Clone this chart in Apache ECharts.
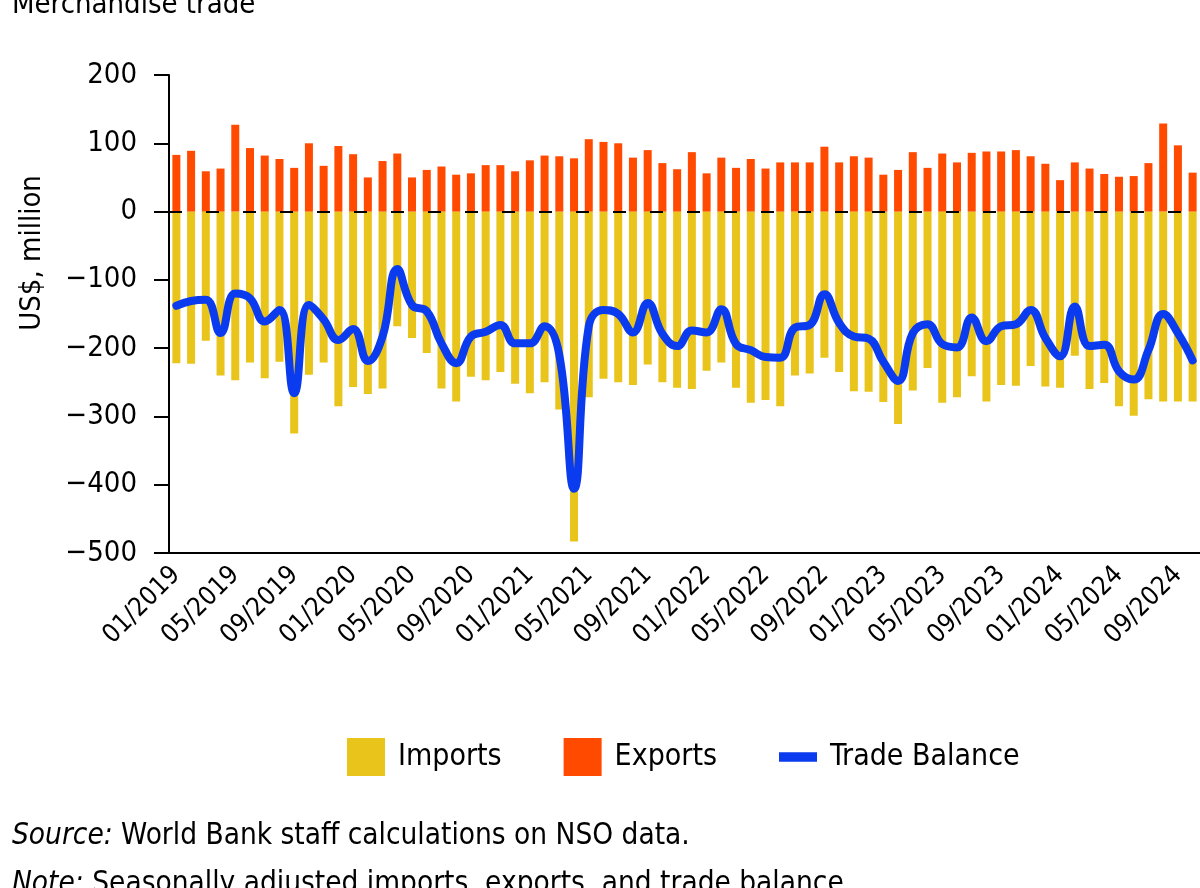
<!DOCTYPE html>
<html>
<head>
<meta charset="utf-8">
<script src="https://cdn.jsdelivr.net/npm/echarts@6.0.0/dist/echarts.min.js"></script>
<style>
html,body{margin:0;padding:0;background:#fff;}
#chart{width:1200px;height:888px;}
</style>
</head>
<body>
<div id="chart"></div>
<script>
var categories = [
 '01/2019','02/2019','03/2019','04/2019','05/2019','06/2019','07/2019','08/2019','09/2019','10/2019','11/2019','12/2019',
 '01/2020','02/2020','03/2020','04/2020','05/2020','06/2020','07/2020','08/2020','09/2020','10/2020','11/2020','12/2020',
 '01/2021','02/2021','03/2021','04/2021','05/2021','06/2021','07/2021','08/2021','09/2021','10/2021','11/2021','12/2021',
 '01/2022','02/2022','03/2022','04/2022','05/2022','06/2022','07/2022','08/2022','09/2022','10/2022','11/2022','12/2022',
 '01/2023','02/2023','03/2023','04/2023','05/2023','06/2023','07/2023','08/2023','09/2023','10/2023','11/2023','12/2023',
 '01/2024','02/2024','03/2024','04/2024','05/2024','06/2024','07/2024','08/2024','09/2024','10/2024'
];
var exportsData = [
 83,89,59,63,127,93,82,77,64,100,67,96,
 84,50,74,85,50,61,66,54,56,68,68,59,
 75,82,81,78,106,102,100,79,90,71,62,87,
 56,79,64,77,63,72,72,72,95,72,81,79,
 54,61,87,64,85,72,86,88,88,90,81,70,
 46,72,63,55,51,52,71,129,97,57
];
var importsData = [
 -222,-223,-189,-240,-247,-221,-244,-220,-325,-239,-221,-285,
 -257,-267,-259,-168,-185,-207,-259,-278,-242,-247,-235,-252,
 -266,-250,-290,-483,-272,-245,-250,-254,-224,-250,-258,-260,
 -233,-221,-258,-280,-276,-285,-240,-237,-214,-235,-263,-264,
 -279,-311,-262,-229,-280,-272,-241,-278,-254,-255,-226,-256,
 -258,-211,-260,-251,-285,-299,-275,-278,-278,-278
];
var balanceData = [
 -138,-131,-129,-178,-120,-127,-161,-144,-266,-137,-158,-188,
 -172,-219,-183,-84,-137,-146,-193,-222,-183,-176,-166,-193,
 -193,-168,-210,-406,-168,-144,-150,-177,-134,-179,-197,-174,
 -177,-143,-194,-203,-213,-214,-170,-166,-121,-163,-183,-186,
 -220,-248,-178,-165,-194,-199,-155,-190,-168,-165,-144,-185,
 -212,-139,-197,-195,-234,-246,-203,-150,-178,-218
];
var yTicks = { min: -500, max: 200, step: 100 };

var FONT = '"DejaVu Sans Condensed", "Liberation Sans Narrow", "DejaVu Sans", sans-serif';
var C_IMP = '#E9C41B', C_EXP = '#FF4A00', C_BAL = '#0A3BEE';

var chart = echarts.init(document.getElementById('chart'), null, {renderer: 'canvas'});
chart.setOption({
  animation: false,
  backgroundColor: '#fff',
  textStyle: { fontFamily: FONT, color: '#000' },
  grid: { left: 169, right: 0, top: 75, bottom: 335, containLabel: false },
  legend: {
    left: 347, top: 738, padding: 0,
    itemWidth: 38, itemHeight: 38, itemGap: 62,
    symbolKeepAspect: true,
    textStyle: { fontFamily: FONT, fontSize: 30, color: '#000', padding: [0, 0, 0, 8] },
    data: [
      { name: 'Imports', icon: 'rect' },
      { name: 'Exports', icon: 'rect' },
      { name: 'Trade Balance', icon: 'path://M0,0H36V9H0Z', itemStyle: { color: C_BAL, borderWidth: 0 }, lineStyle: { width: 0 } }
    ]
  },
  graphic: [
    { type: 'text', left: 12, top: -9, style: { text: 'Merchandise trade', font: '29px ' + FONT, fill: '#000' } },
    { type: 'text', x: 32, y: 253, rotation: Math.PI / 2,
      style: { text: 'US$, million', font: '29px ' + FONT, fill: '#000', align: 'center', verticalAlign: 'middle' } },
    { type: 'text', x: 12, y: 836,
      style: { text: '{i|Source:} World Bank staff calculations on NSO data.', font: '29.5px ' + FONT, fill: '#000', verticalAlign: 'middle',
        rich: { i: { fontStyle: 'italic', fontSize: 29.5, fontFamily: FONT } } } },
    { type: 'text', x: 12, y: 884,
      style: { text: '{i|Note:} Seasonally adjusted imports, exports, and trade balance.', font: '29.5px ' + FONT, fill: '#000', verticalAlign: 'middle',
        rich: { i: { fontStyle: 'italic', fontSize: 29.5, fontFamily: FONT } } } }
  ],
  xAxis: {
    type: 'category',
    data: categories,
    boundaryGap: true,
    axisLine: { onZero: false, lineStyle: { color: '#000', width: 2 } },
    axisTick: { alignWithLabel: true, interval: 3, length: 15, lineStyle: { color: '#000', width: 2 } },
    axisLabel: { interval: 3, rotate: 45, fontSize: 26, fontFamily: FONT, color: '#000', margin: 18 },
    splitLine: { show: false }
  },
  yAxis: {
    type: 'value',
    min: yTicks.min, max: yTicks.max, interval: yTicks.step,
    axisLine: { show: true, lineStyle: { color: '#000', width: 2 } },
    axisTick: { show: true, length: 15, lineStyle: { color: '#000', width: 2 } },
    axisLabel: { fontSize: 29, fontFamily: FONT, color: '#000', margin: 32,
      formatter: function (v) { return v < 0 ? '\u2212' + Math.abs(v) : String(v); } },
    splitLine: { show: false }
  },
  series: [
    { name: 'Imports', type: 'bar', stack: 'trade', barWidth: 8, itemStyle: { color: C_IMP }, data: importsData, z: 2 },
    { name: 'Exports', type: 'bar', stack: 'trade', barWidth: 8, itemStyle: { color: C_EXP }, data: exportsData, z: 2 },
    { name: 'Trade Balance', type: 'line', smooth: 0.45, symbol: 'none', showSymbol: false,
      itemStyle: { color: C_BAL },
      lineStyle: { color: C_BAL, width: 8, cap: 'round', join: 'round' },
      data: balanceData, z: 5,
      markLine: { silent: true, symbol: ['none', 'none'], label: { show: false },
        lineStyle: { color: '#000', type: [13, 24], width: 2 },
        data: [{ yAxis: 0 }] } }
  ]
});
</script>
</body>
</html>
